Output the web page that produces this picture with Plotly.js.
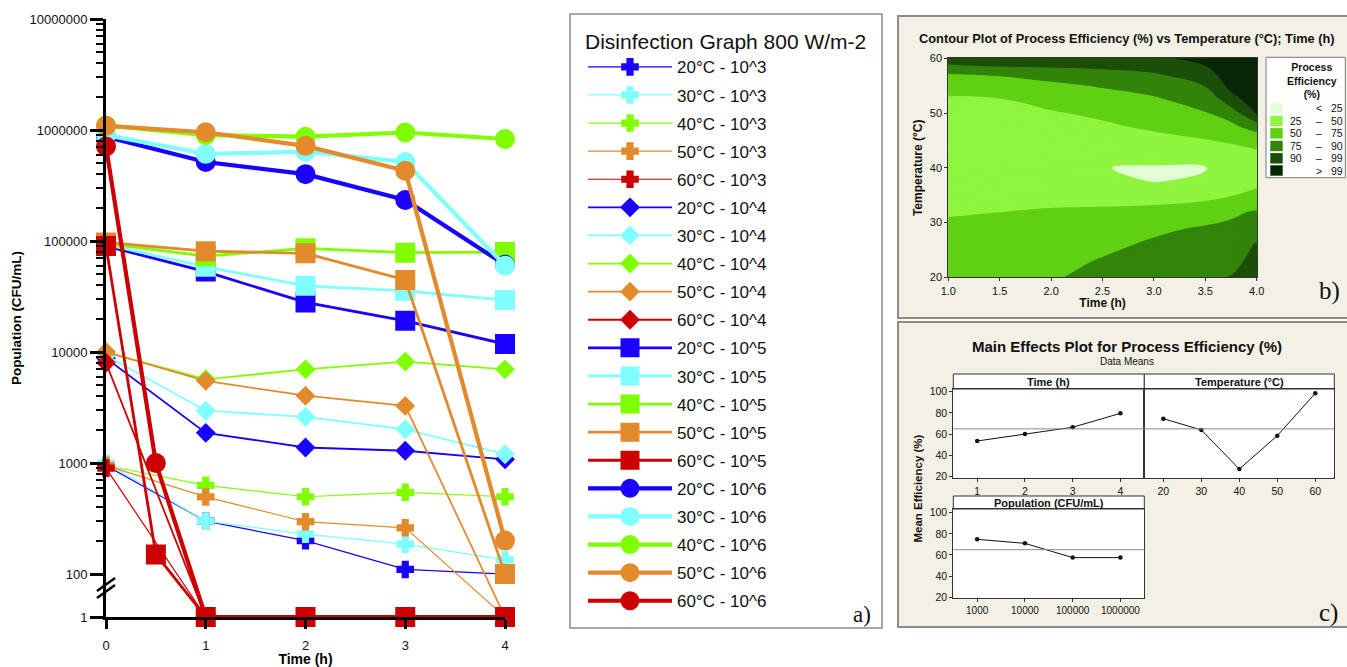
<!DOCTYPE html>
<html><head><meta charset="utf-8">
<script src="https://cdn.plot.ly/plotly-3.0.1.min.js"></script>
<style>html,body{margin:0;padding:0;background:#fff}#chart{width:1347px;height:667px}</style>
</head><body><div id="chart"></div>
<script>
// ================= DATA =================
// Panel a : disinfection curves (CFU/mL) at 800 W/m-2
const TIMES = [0, 1, 2, 3, 4];
const TIMES_60 = [0, 0.5, 1, 2, 3, 4];
const TEMPS = ['20°C', '30°C', '40°C', '50°C', '60°C'];
const POPS = ['10^3', '10^4', '10^5', '10^6'];

const p3_20C = [950, 300, 200, 110, 100];
const p3_30C = [1000, 300, 229, 186, 134];
const p3_40C = [950, 630, 497, 545, 497];
const p3_50C = [950, 495, 296, 261, 1];
const p3_60C = [900, 1, 1, 1, 1];

const p4_20C = [8800, 1870, 1380, 1290, 1080];
const p4_30C = [9300, 2960, 2610, 2010, 1200];
const p4_40C = [10000, 5680, 6980, 8200, 6980];
const p4_50C = [10000, 5500, 4040, 3270, 1];
const p4_60C = [8000, 1, 1, 1, 1];

const p5_20C = [90000, 53000, 28000, 19100, 11800];
const p5_30C = [93000, 58600, 39500, 35600, 29400];
const p5_40C = [95000, 73000, 86000, 78500, 79500];
const p5_50C = [97000, 81000, 77500, 44600, 100];
const p5_60C = [90000, 150, 1, 1, 1, 1];          // sampled at TIMES_60

const p6_20C = [870000, 515000, 400000, 234000, 61000];
const p6_30C = [900000, 610000, 638000, 515000, 60000];
const p6_40C = [1100000, 900000, 870000, 950000, 830000];
const p6_50C = [1090000, 955000, 720000, 430000, 200];
const p6_60C = [710000, 1000, 1, 1, 1, 1];        // sampled at TIMES_60

// Panel b : contour of process efficiency (%)
const CONTOUR_TIME = [1.0, 1.5, 2.0, 2.5, 3.0, 3.5, 3.75, 4.0];
const CONTOUR_TEMP = [20, 23, 26, 29, 32, 35, 37.5, 40, 42.5, 45, 47.5, 50, 52.5, 55, 57, 58.5, 60];
const EFFICIENCY_Z = [
  [68, 72, 72, 80, 86, 88, 89.5, 93],
  [63.1, 66.5, 66.9, 75.7, 81.7, 84.1, 85.7, 92.5],
  [58.3, 61, 61.8, 68.6, 77.4, 80.2, 81.9, 90.1],
  [53.4, 55.5, 56.8, 60.8, 69.4, 76.3, 78.1, 83.1],
  [48.3, 49.8, 51.7, 53.1, 56.5, 61.8, 70.5, 75.7],
  [42.6, 42.9, 44, 42.5, 40.6, 43.6, 49.0, 54.5],
  [37.8, 36.9, 36.5, 29, 24.5, 27.5, 41.0, 45.7],
  [33, 31, 29, 25.4, 23.3, 24.2, 33, 40],
  [36.0, 34.6, 33.8, 34.4, 33.2, 35.6, 42.2, 46.0],
  [39.0, 38.3, 38.5, 40.4, 43.4, 48.9, 52.6, 58.3],
  [42.0, 41.9, 43.3, 46.4, 53.4, 61.1, 68.6, 84],
  [45.0, 45.5, 48.1, 54.3, 62.7, 73.1, 84, 99.5],
  [48.0, 49.1, 57.5, 65.1, 72.0, 81.6, 95, 102.6],
  [56.5, 62.5, 70, 75.9, 80.9, 89.4, 100.4, 105.8],
  [72.6, 75.9, 81.3, 84.7, 87.9, 94.3, 102.7, 108.3],
  [87, 89.1, 90.4, 91.3, 93.2, 97.8, 104.3, 110.1],
  [95, 96, 97, 98, 97, 99.8, 106, 112]
];
const EFF_THRESHOLDS = [25, 50, 75, 90, 99];
const EFF_LOW = ['', '25', '50', '75', '90', ''];
const EFF_SEP = ['<', '–', '–', '–', '–', '>'];
const EFF_HIGH = ['25', '50', '75', '90', '99', '99'];

// Panel c : main effects (data means)
const TIME_LEVELS = [1, 2, 3, 4];
const TIME_EFF = [53.6, 60.2, 66.5, 79.6];
const TEMP_LEVELS = [20, 30, 40, 50, 60];
const TEMP_EFF = [74.6, 64.0, 27.2, 58.6, 98.5];
const POP_LEVELS = ['1000', '10000', '100000', '1000000'];
const POP_EFF = [74.8, 71.0, 57.5, 57.5];
const GRAND_MEAN = 65.0;

// ================= STYLE =================
const W = 1347, H = 667;
const PX = x => x / W;
const PY = y => 1 - y / H;
const FONT = 'Liberation Sans, Arial, sans-serif';
const SERIF = 'Liberation Serif, Times New Roman, serif';
const TEMP_COLORS = ['#1a00ff', '#80ffff', '#7fff00', '#e38b2c', '#cc0000'];
const EFF_COLORS = ['#e2fdd6', '#8ff53f', '#5fd112', '#33840a', '#1b4e08', '#072606'];
const GROUP_STYLE = [
  {symbol: 'cross', size: 13, lw: 1.2, mlw: 2},
  {symbol: 'diamond', size: 12, lw: 1.8, mlw: 3},
  {symbol: 'square', size: 17, lw: 2.8, mlw: 3},
  {symbol: 'circle', size: 17, lw: 4.2, mlw: 3}
];
const GROUP_SERIES = [
  [p3_20C, p3_30C, p3_40C, p3_50C, p3_60C],
  [p4_20C, p4_30C, p4_40C, p4_50C, p4_60C],
  [p5_20C, p5_30C, p5_40C, p5_50C, p5_60C],
  [p6_20C, p6_30C, p6_40C, p6_50C, p6_60C]
];

// broken log axis: values >= 100 on log scale, value 1 placed just below the break
const ONE_POS = 1.613;
const ypos = v => (v >= 100 ? Math.log10(v) : ONE_POS);

// ================= TRACES =================
const traces = [];
GROUP_SERIES.forEach((grp, g) => {
  const st = GROUP_STYLE[g];
  grp.forEach((vals, k) => {
    const name = TEMPS[k] + ' - ' + POPS[g];
    traces.push({
      type: 'scatter', mode: 'lines+markers', xaxis: 'x', yaxis: 'y',
      x: vals.length === TIMES_60.length ? TIMES_60 : TIMES,
      y: vals.map(ypos), customdata: vals,
      hovertemplate: '%{customdata} CFU/mL<extra>' + name + '</extra>',
      name: name, legendgroup: name, cliponaxis: false,
      line: {color: TEMP_COLORS[k], width: st.lw},
      marker: {symbol: st.symbol, size: st.size, color: TEMP_COLORS[k],
               line: {color: TEMP_COLORS[k], width: st.mlw}}
    });
  });
});

// contour colorscale: stepped at thresholds (fill bands every 1 %)
const C_START = 0, C_END = 120, C_SIZE = 1;
const colorscale = [[0, EFF_COLORS[0]]];
EFF_THRESHOLDS.forEach((t, i) => {
  const f = (t - C_START - 0.5) / (C_END - C_START);
  colorscale.push([f, EFF_COLORS[i]]);
  colorscale.push([f + 1e-6, EFF_COLORS[i + 1]]);
});
colorscale.push([1, EFF_COLORS[EFF_COLORS.length - 1]]);

traces.push({
  type: 'contour', xaxis: 'x2', yaxis: 'y2', showlegend: false, showscale: false,
  x: CONTOUR_TIME, y: CONTOUR_TEMP, z: EFFICIENCY_Z,
  autocontour: false, zauto: false, zmin: C_START + 0.5, zmax: C_END + 0.5,
  contours: {start: C_START, end: C_END, size: C_SIZE, coloring: 'fill', showlines: false},
  line: {width: 0, smoothing: 1.3}, colorscale: colorscale,
  hovertemplate: 'Time %{x} h<br>Temp %{y} °C<br>Eff %{z:.0f}%<extra></extra>'
});

const meStyle = {type: 'scatter', mode: 'lines+markers', showlegend: false,
  line: {color: '#111', width: 1}, marker: {color: '#111', size: 4.5}};
traces.push(Object.assign({}, meStyle, {x: TIME_LEVELS, y: TIME_EFF, xaxis: 'x3', yaxis: 'y3'}));
traces.push(Object.assign({}, meStyle, {x: TEMP_LEVELS, y: TEMP_EFF, xaxis: 'x4', yaxis: 'y4'}));
traces.push(Object.assign({}, meStyle, {x: POP_LEVELS, y: POP_EFF, xaxis: 'x5', yaxis: 'y5'}));

// ================= LAYOUT =================
const minorVals = [];
for (let d = 2; d <= 6; d++) for (let m = 2; m <= 9; m++) minorVals.push(Math.log10(m * Math.pow(10, d)));

const shapes = [];
const rect = (x0, y0, x1, y1, fill, lc, lw, layer) => shapes.push({type: 'rect', xref: 'paper', yref: 'paper',
  x0: PX(x0), x1: PX(x1), y0: PY(y1), y1: PY(y0), fillcolor: fill, line: {color: lc, width: lw}, layer: layer || 'below'});
const seg = (x0, y0, x1, y1, c, w) => shapes.push({type: 'line', xref: 'paper', yref: 'paper',
  x0: PX(x0), x1: PX(x1), y0: PY(y0), y1: PY(y1), line: {color: c, width: w}, layer: 'above'});

// panel backgrounds
rect(898, 16, 1352, 318, '#f3f0e5', '#8c8c8c', 2);
rect(898, 322, 1352, 627, '#f3f0e5', '#8c8c8c', 2);
// main effects plot areas and header strips
const ME_BOX = [[953.3, 1144.3, 374, 389, 478.3], [1144.3, 1334.3, 374, 389, 478.3], [953.3, 1144.3, 496, 509, 598.3]];
ME_BOX.forEach(b => {
  rect(b[0], b[3], b[1], b[4], '#ffffff', 'rgba(0,0,0,0)', 0);
  rect(b[0], b[2], b[1], b[3], '#ffffff', '#333', 1);
});
// contour legend box + swatches
rect(1266, 57.3, 1345.3, 177.7, '#ffffff', '#7a7a7a', 1);
const EFF_ROW_Y = [108.3, 121, 133.3, 146, 158.3, 170.5];
EFF_COLORS.forEach((c, i) => rect(1270.3, EFF_ROW_Y[i] - 5.2, 1282.7, EFF_ROW_Y[i] + 5.2, c, 'rgba(0,0,0,0)', 0));
// panel a legend frame
rect(570, 14, 882, 628, 'rgba(0,0,0,0)', '#8c8c8c', 1.5, 'above');
// axis-break marks
seg(97, 591, 115, 578, '#000', 2.5);
seg(97, 598, 115, 585, '#000', 2.5);
// grand-mean reference lines
[['x3', 'y3'], ['x4', 'y4'], ['x5', 'y5']].forEach(a => shapes.push({type: 'line', xref: a[0] + ' domain', yref: a[1],
  x0: 0, x1: 1, y0: GRAND_MEAN, y1: GRAND_MEAN, line: {color: '#8a8a8a', width: 1}, layer: 'above'}));

const annotations = [];
const ann = (x, y, text, size, opts) => annotations.push(Object.assign({xref: 'paper', yref: 'paper', x: PX(x), y: PY(y),
  text: text, showarrow: false, font: {family: FONT, size: size, color: '#111'}, xanchor: 'center', yanchor: 'middle'}, opts || {}));
ann(861.5, 614, 'a)', 23, {font: {family: SERIF, size: 23, color: '#111'}});
ann(1329.5, 291, 'b)', 25, {font: {family: SERIF, size: 25, color: '#111'}});
ann(1328, 613, 'c)', 25, {font: {family: SERIF, size: 25, color: '#111'}});
ann(1126.7, 38.3, '<b>Contour Plot of Process Efficiency (%) vs Temperature (°C); Time (h)</b>', 12.8);
ann(1312, 80.5, '<b>Process<br>Efficiency<br>(%)</b>', 10.5);
EFF_COLORS.forEach((c, i) => {
  ann(1288, EFF_ROW_Y[i], EFF_LOW[i], 10.5, {xanchor: 'left'});
  ann(1318.5, EFF_ROW_Y[i], EFF_SEP[i], 10.5);
  ann(1329, EFF_ROW_Y[i], EFF_HIGH[i], 10.5, {xanchor: 'left'});
});
ann(1127, 346, '<b>Main Effects Plot for Process Efficiency (%)</b>', 15);
ann(1126.7, 361.5, 'Data Means', 10);
ann(1048.8, 381.5, '<b>Time (h)</b>', 11);
ann(1239.3, 381.5, '<b>Temperature (°C)</b>', 11);
ann(1048.8, 502.5, '<b>Population (CFU/mL)</b>', 11);
ann(918.3, 488.3, '<b>Mean Efficiency (%)</b>', 11.5, {textangle: -90});

const tickAx = {showgrid: false, zeroline: false, showline: true, mirror: true, linecolor: '#333', linewidth: 1,
  ticks: 'outside', ticklen: 3, tickcolor: '#333', tickfont: {family: FONT, size: 10.5, color: '#111'}};

const layout = {
  width: W, height: H, margin: {l: 0, r: 0, t: 0, b: 0},
  paper_bgcolor: '#ffffff', plot_bgcolor: 'rgba(0,0,0,0)',
  font: {family: FONT, color: '#000'}, showlegend: true, hovermode: 'closest',
  xaxis: {domain: [PX(106), PX(505)], range: [0, 4], tickvals: TIMES.slice(), anchor: 'y',
    showgrid: false, zeroline: false, showline: true, linecolor: '#000', linewidth: 3,
    ticks: 'outside', ticklen: 9, tickwidth: 3, tickcolor: '#000', ticklabelstandoff: 5,
    tickfont: {family: FONT, size: 13, color: '#111'},
    title: {text: '<b>Time (h)</b>', font: {family: FONT, size: 14, color: '#000'}, standoff: 0}},
  yaxis: {domain: [PY(617), PY(19)], range: [ONE_POS, 7], anchor: 'x',
    tickmode: 'array', tickvals: [ONE_POS, 2, 3, 4, 5, 6, 7],
    ticktext: ['1', '100', '1000', '10000', '100000', '1000000', '10000000'],
    minor: {tickmode: 'array', tickvals: minorVals, ticks: 'outside', ticklen: 7, tickwidth: 2, tickcolor: '#000', showgrid: false},
    showgrid: false, zeroline: false, showline: true, linecolor: '#000', linewidth: 3,
    ticks: 'outside', ticklen: 13, tickwidth: 2.5, tickcolor: '#000',
    tickfont: {family: FONT, size: 13, color: '#111'},
    title: {text: '<b>Population (CFU/mL)</b>', font: {family: FONT, size: 13.5, color: '#000'}, standoff: 5}},
  xaxis2: Object.assign({}, tickAx, {domain: [PX(948.3), PX(1256.7)], range: [1, 4], anchor: 'y2',
    tick0: 1, dtick: 0.5, tickformat: '.1f', tickfont: {family: FONT, size: 11, color: '#111'},
    title: {text: '<b>Time (h)</b>', font: {family: FONT, size: 12, color: '#111'}, standoff: 2}}),
  yaxis2: Object.assign({}, tickAx, {domain: [PY(277.3), PY(58.3)], range: [20, 60], anchor: 'x2',
    tick0: 20, dtick: 10, tickfont: {family: FONT, size: 11, color: '#111'},
    title: {text: '<b>Temperature (°C)</b>', font: {family: FONT, size: 12, color: '#111'}, standoff: 4}}),
  xaxis3: Object.assign({}, tickAx, {domain: [PX(953.3), PX(1144.3)], range: [0.5, 4.5], anchor: 'y3',
    tickvals: TIME_LEVELS}),
  yaxis3: Object.assign({}, tickAx, {domain: [PY(478.3), PY(389)], range: [18.5, 102.5], anchor: 'x3',
    tickvals: [20, 40, 60, 80, 100]}),
  xaxis4: Object.assign({}, tickAx, {domain: [PX(1144.3), PX(1334.3)], range: [15, 65], anchor: 'y4',
    tickvals: TEMP_LEVELS}),
  yaxis4: Object.assign({}, tickAx, {domain: [PY(478.3), PY(389)], range: [18.5, 102.5], anchor: 'x4',
    showticklabels: false, ticks: ''}),
  xaxis5: Object.assign({}, tickAx, {domain: [PX(953.3), PX(1144.3)], type: 'category', range: [-0.5, 3.5],
    anchor: 'y5', tickfont: {family: FONT, size: 10, color: '#111'}}),
  yaxis5: Object.assign({}, tickAx, {domain: [PY(598.3), PY(509)], range: [19, 103.5], anchor: 'x5',
    tickvals: [20, 40, 60, 80, 100]}),
  legend: {x: PX(583), xanchor: 'left', y: PY(22), yanchor: 'top', bgcolor: 'rgba(0,0,0,0)', borderwidth: 0,
    font: {family: FONT, size: 17, color: '#111'}, itemwidth: 84, tracegroupgap: 3, itemsizing: 'trace',
    title: {text: 'Disinfection Graph 800 W/m-2', font: {family: FONT, size: 21, color: '#111'}}},
  shapes: shapes, annotations: annotations
};

Plotly.newPlot('chart', traces, layout, {displayModeBar: false, staticPlot: false});
</script></body></html>
